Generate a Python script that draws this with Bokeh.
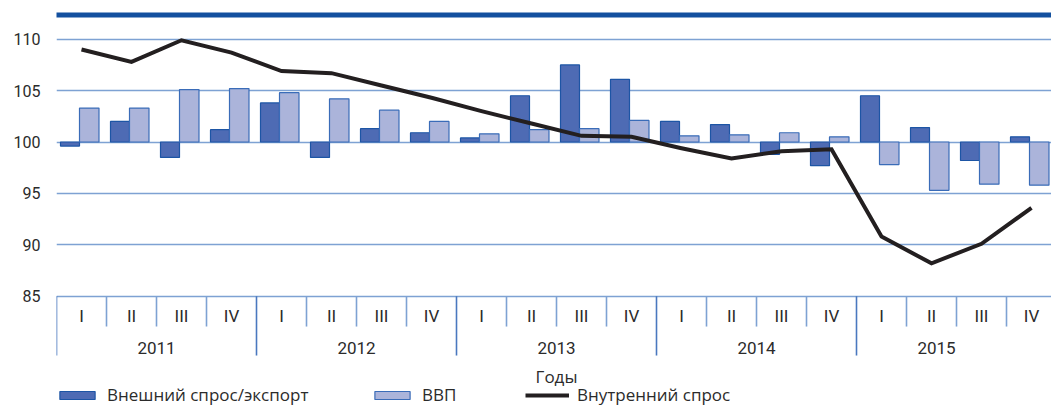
from bokeh.plotting import figure
from bokeh.models import Range1d, FixedTicker, Legend, LegendItem, ColumnDataSource, BoxAnnotation
from bokeh.core.properties import value
from bokeh.embed import file_html
from bokeh.resources import INLINE

# ---------------- data ----------------
years = ["2011", "2012", "2013", "2014", "2015"]
quarters = ["I", "II", "III", "IV"]
export_vals = [99.6, 102.0, 98.5, 101.2,
               103.8, 98.5, 101.3, 100.9,
               100.4, 104.5, 107.5, 106.1,
               102.0, 101.7, 98.8, 97.7,
               104.5, 101.4, 98.2, 100.5]
gdp_vals = [103.3, 103.3, 105.1, 105.2,
            104.8, 104.2, 103.1, 102.0,
            100.8, 101.2, 101.3, 102.1,
            100.6, 100.7, 100.9, 100.5,
            97.8, 95.3, 95.9, 95.8]
domestic_vals = [109.0, 107.8, 109.9, 108.7,
                 106.9, 106.7, 105.5, 104.3,
                 103.0, 101.8, 100.6, 100.5,
                 99.4, 98.4, 99.1, 99.3,
                 90.8, 88.2, 90.1, 93.6]
y_ticks = [85, 90, 95, 100, 105, 110]
series_names = ["Внешний спрос/экспорт", "ВВП", "Внутренний спрос"]
x_title = "Годы"

# ---------------- style ----------------
TOP_BLUE = "#13509f"
DARK_FILL = "#4e6bb4"
DARK_LINE = "#1d55a5"
LIGHT_FILL = "#abb4da"
LIGHT_LINE = "#3a6cb8"
GRID = "#7ea2d3"
TEXT = "#2b2b2b"
NARROW = "Roboto"
SANS = "Open Sans"

n = len(export_vals)
idx = list(range(n))
base = 100

src = ColumnDataSource(dict(
    xd=[i + 0.27 for i in idx],
    xl=[i + 0.655 for i in idx],
    xc=[i + 0.5 for i in idx],
    exp=export_vals,
    gdp=gdp_vals,
    dom=domestic_vals,
    bottom=[base] * n,
))

W = 1051
H = 409
p = figure(width=W, height=H, output_backend="svg", toolbar_location=None,
           x_range=Range1d(0, 19.9), y_range=Range1d(73.98, 113.765),
           min_border_left=56, min_border_right=0, min_border_top=0, min_border_bottom=0,
           x_axis_location=None)
p.outline_line_color = None
p.background_fill_color = "white"
p.border_fill_color = "white"

# top blue rule across the canvas
p.add_layout(BoxAnnotation(left=8, right=W, top=12, bottom=17,
                           left_units="canvas", right_units="canvas",
                           top_units="canvas", bottom_units="canvas",
                           fill_color=TOP_BLUE, fill_alpha=1, line_color=None))

# y axis
p.yaxis.ticker = FixedTicker(ticks=y_ticks)
p.yaxis.axis_line_color = None
p.yaxis.major_tick_line_color = None
p.yaxis.minor_tick_line_color = None
p.yaxis.major_tick_out = 0
p.yaxis.major_tick_in = 0
p.yaxis.major_label_standoff = 16
p.yaxis.major_label_text_font = NARROW
p.yaxis.major_label_text_font_size = "16px"
p.yaxis.major_label_text_color = TEXT

p.xgrid.visible = False
p.ygrid.ticker = FixedTicker(ticks=y_ticks)
p.ygrid.grid_line_color = GRID
p.ygrid.grid_line_width = 1.6

# bars
r_exp = p.vbar(x="xd", width=0.38, top="exp", bottom="bottom", source=src,
               fill_color=DARK_FILL, line_color=DARK_LINE, line_width=1.2)
r_gdp = p.vbar(x="xl", width=0.39, top="gdp", bottom="bottom", source=src,
               fill_color=LIGHT_FILL, line_color=LIGHT_LINE, line_width=1.2)
# line
r_dom = p.line(x="xc", y="dom", source=src, line_color="#231f20", line_width=4,
               line_join="miter")

# category dividers below the axis
y_axis_bottom = min(y_ticks)
short_x, long_x = [], []
for i in range(n):
    (long_x if i % len(quarters) == 0 else short_x).append(i)
p.segment(x0=short_x, x1=short_x, y0=[y_axis_bottom] * len(short_x),
          y1=[y_axis_bottom - 2.95] * len(short_x), line_color=GRID, line_width=1.6)
p.segment(x0=long_x, x1=long_x, y0=[y_axis_bottom] * len(long_x),
          y1=[y_axis_bottom - 5.77] * len(long_x), line_color="#4a78bf", line_width=1.6)

# quarter labels
q_labels = [quarters[i % len(quarters)] for i in idx]
p.text(x=[i + 0.5 for i in idx], y=[y_axis_bottom - 1.88] * n, text=q_labels,
       text_font=value(NARROW), text_font_size="17px", text_color=TEXT,
       text_align="center", text_baseline="middle")

# year labels (last year centred on its visible part)
year_x = [4 * k + 2 for k in range(len(years))]
year_x[-1] = 17.6
p.text(x=year_x, y=[y_axis_bottom - 5.0] * len(years), text=years,
       text_font=value(NARROW), text_font_size="17px", text_color=TEXT,
       text_align="center", text_baseline="middle")

# axis title
p.text(x=[n / 2], y=[y_axis_bottom - 7.8], text=[x_title],
       text_font=value(SANS), text_font_size="17px", text_color=TEXT,
       text_align="center", text_baseline="middle")

# legends
for r, name, xpos in [(r_exp, series_names[0], -1), (r_gdp, series_names[1], 314),
                      (r_dom, series_names[2], 469)]:
    lg = Legend(items=[LegendItem(label=name, renderers=[r])], location=(xpos, 3),
                orientation="horizontal", glyph_width=44, glyph_height=10,
                label_standoff=8, padding=0, margin=0, spacing=0,
                border_line_color=None, background_fill_alpha=0,
                label_text_font=SANS, label_text_font_size="17px",
                label_text_color=TEXT, label_height=14)
    p.add_layout(lg, "center")

open("out.html", "w").write(file_html(p, INLINE))
